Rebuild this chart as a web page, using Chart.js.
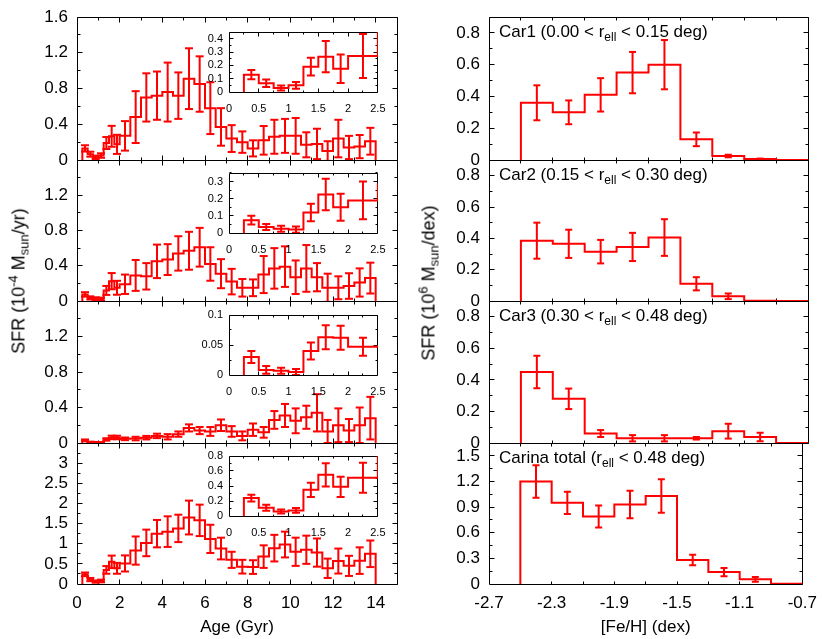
<!DOCTYPE html>
<html>
<head>
<meta charset="utf-8">
<script src="https://cdn.jsdelivr.net/npm/chart.js@4.4.1/dist/chart.umd.min.js"></script>
<style>
  body { margin: 0; background: #fff; }
  #fig { position: relative; width: 822px; height: 639px; overflow: hidden;
         font-family: 'Liberation Sans', Arial, Helvetica, sans-serif; color: #000; }
  #fig canvas { position: absolute; }
  .txt { position: absolute; font-size: 17px; line-height: 17px; white-space: nowrap; }
  .rot { transform: translate(-50%, -50%) rotate(-90deg); font-size: 18px; }
  .sub { font-size: 12px; vertical-align: -4px; line-height: 0; }
  .sup { font-size: 12px; vertical-align: 7px; line-height: 0; }
  .rot .sub, .rot .sup { font-size: 13px; }
</style>
</head>
<body>
<div id="fig"></div>
<script>
// age bins (Gyr): 0.25 wide up to 2 Gyr, then 0.5 wide
const ageEdges = [0.25, 0.5, 0.75, 1.0, 1.25, 1.5, 1.75, 2.0, 2.5, 3.0, 3.5, 4.0, 4.5, 5.0, 5.5, 6.0,
  6.5, 7.0, 7.5, 8.0, 8.5, 9.0, 9.5, 10.0, 10.5, 11.0, 11.5, 12.0, 12.5, 13.0, 13.5, 14.0];

const sfrCar1 = [0.13, 0.065, 0.03, 0.05, 0.19, 0.265, 0.175,
  0.27, 0.48, 0.70, 0.72, 0.76, 0.72, 0.91, 0.85, 0.58, 0.37, 0.24, 0.20, 0.13, 0.22, 0.26, 0.27,
  0.27, 0.17, 0.18, 0.10, 0.24, 0.14, 0.15, 0.21];
const sfrCar1Err = [0.035, 0.028, 0.019, 0.025, 0.067, 0.117, 0.107,
  0.165, 0.29, 0.27, 0.27, 0.33, 0.26, 0.34, 0.31, 0.29, 0.21, 0.15, 0.12, 0.09, 0.16, 0.19, 0.19,
  0.20, 0.14, 0.17, 0.11, 0.21, 0.13, 0.13, 0.15];

const sfrCar2 = [0.075, 0.035, 0.025, 0.02, 0.12, 0.225, 0.15,
  0.19, 0.29, 0.28, 0.45, 0.47, 0.54, 0.57, 0.61, 0.42, 0.31, 0.22, 0.15, 0.15, 0.30, 0.37, 0.39,
  0.27, 0.37, 0.27, 0.15, 0.15, 0.17, 0.21, 0.26];
const sfrCar2Err = [0.025, 0.018, 0.017, 0.018, 0.051, 0.092, 0.079,
  0.11, 0.175, 0.15, 0.19, 0.175, 0.195, 0.215, 0.22, 0.19, 0.165, 0.145, 0.10, 0.095, 0.21, 0.23, 0.23,
  0.19, 0.265, 0.16, 0.16, 0.13, 0.145, 0.16, 0.175];

const sfrCar3 = [0.030, 0.0085, 0.007, 0.005, 0.040, 0.063, 0.062,
  0.047, 0.05, 0.06, 0.08, 0.07, 0.10, 0.17, 0.14, 0.13, 0.20, 0.13, 0.08, 0.15, 0.12, 0.26, 0.31,
  0.25, 0.29, 0.34, 0.13, 0.20, 0.14, 0.20, 0.28];
const sfrCar3Err = [0.01, 0.0065, 0.005, 0.005, 0.014, 0.02, 0.02,
  0.015, 0.02, 0.02, 0.025, 0.03, 0.03, 0.04, 0.04, 0.05, 0.065, 0.06, 0.05, 0.07, 0.06, 0.10, 0.13,
  0.14, 0.13, 0.21, 0.13, 0.19, 0.13, 0.20, 0.24];

const sfrTotal = [0.24, 0.11, 0.06, 0.075, 0.35, 0.55, 0.39,
  0.51, 0.83, 1.02, 1.25, 1.30, 1.38, 1.65, 1.58, 1.12, 0.88, 0.60, 0.43, 0.42, 0.68, 0.89, 0.98,
  0.80, 0.85, 0.78, 0.39, 0.57, 0.45, 0.58, 0.75];
const sfrTotalErr = [0.045, 0.04, 0.028, 0.033, 0.095, 0.155, 0.135,
  0.20, 0.35, 0.33, 0.34, 0.38, 0.34, 0.42, 0.39, 0.35, 0.27, 0.20, 0.17, 0.17, 0.28, 0.33, 0.32,
  0.35, 0.35, 0.35, 0.24, 0.31, 0.25, 0.33, 0.33];

// metallicity bins (dex)
const fehEdges = [-2.5, -2.3, -2.1, -1.9, -1.7, -1.5, -1.3, -1.1, -0.9, -0.7];
const mdfCar1 = [0.36, 0.30, 0.41, 0.55, 0.60, 0.13, 0.025, 0.006, 0.0];
const mdfCar1Err = [0.11, 0.075, 0.105, 0.13, 0.155, 0.043, 0.008, 0.003, 0];
const mdfCar2 = [0.385, 0.365, 0.315, 0.345, 0.405, 0.11, 0.03, 0.002, 0.0];
const mdfCar2Err = [0.115, 0.09, 0.075, 0.09, 0.117, 0.042, 0.018, 0, 0];
const mdfCar3 = [0.45, 0.28, 0.06, 0.03, 0.03, 0.03, 0.075, 0.038, 0.0];
const mdfCar3Err = [0.103, 0.065, 0.022, 0.02, 0.02, 0.008, 0.047, 0.027, 0];
const mdfTotal = [1.2, 0.95, 0.79, 0.93, 1.03, 0.28, 0.14, 0.055, 0.004];
const mdfTotalErr = [0.19, 0.13, 0.13, 0.16, 0.195, 0.062, 0.048, 0.028, 0];

const regionLabels = [
  'Car1 (0.00 &lt; r<span class="sub">ell</span> &lt; 0.15 deg)',
  'Car2 (0.15 &lt; r<span class="sub">ell</span> &lt; 0.30 deg)',
  'Car3 (0.30 &lt; r<span class="sub">ell</span> &lt; 0.48 deg)',
  'Carina total (r<span class="sub">ell</span> &lt; 0.48 deg)'
];

Chart.defaults.font.family = "'Liberation Sans', Arial, Helvetica, sans-serif";
Chart.defaults.color = '#000';

const RED = '#ff0000';
const fig = document.getElementById('fig');
const rowTop = [17, 160, 301, 443];
const rowBot = [160, 301, 443, 584];
const fmt = (v) => String(Math.round(v * 1000) / 1000);

const histData = (edges, vals) => {
  const pts = [{ x: edges[0], y: 0 }];
  vals.forEach((v, i) => pts.push({ x: edges[i], y: v }));
  pts.push({ x: edges[edges.length - 1], y: 0 });
  return pts;
};

const errData = (edges, vals, errs) => {
  const pts = [];
  vals.forEach((v, i) => {
    if (!errs[i]) return;
    const c = (edges[i] + edges[i + 1]) / 2;
    pts.push({ x: c, y: v - errs[i] }, { x: c, y: v + errs[i] }, { x: c, y: null });
  });
  return pts;
};

// gnuplot style box: border plus inward ticks on all four sides
const frame = {
  id: 'frame',
  beforeDraw(chart, args, o) {
    if (!o.fill) return;
    const { ctx, chartArea: a } = chart;
    ctx.save();
    ctx.fillStyle = '#fff';
    ctx.fillRect(a.left, a.top, a.right - a.left, a.bottom - a.top);
    ctx.restore();
  },
  beforeDatasetsDraw(chart, args, o) {
    const { ctx, chartArea: a, scales } = chart;
    const L = Math.floor(a.left) + 0.5;
    const R = Math.floor(a.right) + 0.5;
    const T = Math.floor(a.top) + 0.5;
    const B = Math.floor(a.bottom) + 0.5;
    ctx.save();
    ctx.strokeStyle = '#000';
    ctx.lineWidth = 1;
    ctx.beginPath();
    ctx.rect(L, T, R - L, B - T);
    const marks = (scale, step, major) => {
      const n = Math.round((scale.max - scale.min) / step);
      for (let k = 1; k < n + 1; k++) {
        const v = scale.min + k * step;
        if (v > scale.max + 1e-9) break;
        const q = v / major;
        const len = Math.abs(q - Math.round(q)) < 1e-6 ? o.len[0] : o.len[1];
        const p = Math.floor(scale.getPixelForValue(v)) + 0.5;
        if (scale.axis === 'x') {
          ctx.moveTo(p, B); ctx.lineTo(p, B - len);
          ctx.moveTo(p, T); ctx.lineTo(p, T + len);
        } else {
          ctx.moveTo(L, p); ctx.lineTo(L + len, p);
          ctx.moveTo(R, p); ctx.lineTo(R - len, p);
        }
      }
    };
    marks(scales.x, o.x[0], o.x[1]);
    marks(scales.y, o.y[0], o.y[1]);
    ctx.stroke();
    ctx.restore();
  }
};

function addChart(cfg) {
  const c = document.createElement('canvas');
  c.width = cfg.axisW + cfg.w + cfg.padR;
  c.height = cfg.padT + cfg.h + cfg.xAxisH + cfg.padB;
  c.style.left = (cfg.left - cfg.axisW) + 'px';
  c.style.top = (cfg.top - cfg.padT) + 'px';
  fig.appendChild(c);
  return new Chart(c, {
    type: 'line',
    data: {
      datasets: [
        {
          data: histData(cfg.edges, cfg.vals),
          borderColor: RED, borderWidth: 2, stepped: 'before',
          pointRadius: 0, fill: false
        },
        {
          data: errData(cfg.edges, cfg.vals, cfg.errs),
          borderColor: RED, borderWidth: 2, spanGaps: false,
          pointStyle: 'line', pointRadius: cfg.capR, pointBorderWidth: 2,
          pointBorderColor: RED, pointBackgroundColor: RED
        }
      ]
    },
    options: {
      responsive: false,
      animation: false,
      devicePixelRatio: 1,
      events: [],
      layout: { padding: { left: 0, top: cfg.padT, right: cfg.padR, bottom: cfg.padB } },
      plugins: {
        legend: { display: false },
        tooltip: { enabled: false },
        frame: { x: cfg.xTick, y: cfg.yTick, len: cfg.tickLen, fill: cfg.fill }
      },
      scales: {
        x: {
          type: 'linear', min: cfg.xMin, max: cfg.xMax,
          grid: { display: false, drawTicks: false }, border: { display: false },
          ticks: {
            display: cfg.showX, stepSize: cfg.xStep, includeBounds: false, autoSkip: false,
            maxRotation: 0, padding: cfg.xPad, font: { size: cfg.font }, callback: (v) => fmt(v)
          },
          title: { display: !!cfg.xTitle, text: cfg.xTitle || '', font: { size: 17 }, padding: 0 },
          afterFit: (s) => { s.height = cfg.xAxisH; }
        },
        y: {
          min: 0, max: cfg.yMax,
          grid: { display: false, drawTicks: false }, border: { display: false },
          ticks: {
            stepSize: cfg.yStep, includeBounds: false, autoSkip: false, padding: cfg.yPad,
            font: { size: cfg.font },
            callback: (v) => (cfg.hideTop && v > cfg.yMax - 1e-9) ? '' : fmt(v)
          },
          afterFit: (s) => { s.width = cfg.axisW; }
        }
      }
    },
    plugins: [frame]
  });
}

const sfrRows = [[sfrCar1, sfrCar1Err], [sfrCar2, sfrCar2Err], [sfrCar3, sfrCar3Err], [sfrTotal, sfrTotalErr]];
const mdfRows = [[mdfCar1, mdfCar1Err], [mdfCar2, mdfCar2Err], [mdfCar3, mdfCar3Err], [mdfTotal, mdfTotalErr]];
const sfrMax = [1.6, 1.6, 1.6, 3.5];
const sfrStep = [0.4, 0.4, 0.4, 0.5];
const mdfMax = [0.9, 0.9, 0.9, 1.65];
const mdfStep = [0.2, 0.2, 0.2, 0.3];
const insetMax = [0.45, 0.35, 0.1, 0.8];
const insetStep = [0.1, 0.1, 0.05, 0.2];
const insetTop = [32, 173, 315, 456];

for (let r = 0; r < 4; r++) {
  const last = r === 3;
  // left: star formation history
  addChart({
    left: 77, top: rowTop[r], w: 320, h: rowBot[r] - rowTop[r],
    axisW: 70, padT: 24, padR: 20, padB: last ? 0 : 24, xAxisH: last ? 54 : 0,
    edges: ageEdges, vals: sfrRows[r][0], errs: sfrRows[r][1], capR: 4,
    xMin: 0, xMax: 15, xStep: 2, showX: last, xPad: 9, xTitle: last ? 'Age (Gyr)' : '',
    yMax: sfrMax[r], yStep: sfrStep[r], yPad: 9, hideTop: r > 0, font: 17,
    xTick: [1, 2], yTick: [sfrStep[r] / 2, sfrStep[r]], tickLen: [5, 3], fill: false
  });
  // right: metallicity distribution
  addChart({
    left: 489, top: rowTop[r], w: 319, h: rowBot[r] - rowTop[r],
    axisW: 70, padT: 24, padR: 18, padB: last ? 0 : 24, xAxisH: last ? 54 : 0,
    edges: fehEdges, vals: mdfRows[r][0], errs: mdfRows[r][1], capR: 3.5,
    xMin: -2.7, xMax: -0.7, xStep: 0.4, showX: last, xPad: 9, xTitle: last ? '[Fe/H] (dex)' : '',
    yMax: mdfMax[r], yStep: mdfStep[r], yPad: 9, hideTop: false, font: 17,
    xTick: [0.2, 0.2], yTick: [mdfStep[r] / 2, mdfStep[r]], tickLen: [5, 3], fill: false
  });
}

// insets: zoom on the youngest ages
for (let r = 0; r < 4; r++) {
  addChart({
    left: 229, top: insetTop[r], w: 155, h: 60,
    axisW: 36, padT: 16, padR: 12, padB: 0, xAxisH: 22,
    edges: ageEdges, vals: sfrRows[r][0], errs: sfrRows[r][1], capR: 4,
    xMin: 0, xMax: 2.5, xStep: 0.5, showX: true, xPad: 10.5, xTitle: '',
    yMax: insetMax[r], yStep: insetStep[r], yPad: 6, hideTop: false, font: 11,
    xTick: [0.25, 0.5], yTick: [insetStep[r] / 2, insetStep[r]], tickLen: [4, 2], fill: true
  });
}

// text with sub/superscripts
const addText = (html, style, cls) => {
  const d = document.createElement('div');
  d.className = 'txt' + (cls ? ' ' + cls : '');
  d.innerHTML = html;
  Object.assign(d.style, style);
  fig.appendChild(d);
};
addText('SFR (10<span class="sup">-4</span> M<span class="sub">sun</span>/yr)', { left: '19px', top: '281px' }, 'rot');
addText('SFR (10<span class="sup">6</span> M<span class="sub">sun</span>/dex)', { left: '429px', top: '283px' }, 'rot');
regionLabels.forEach((t, r) => addText(t, { left: '499px', top: (rowTop[r] + 6) + 'px' }));
</script>
</body>
</html>
